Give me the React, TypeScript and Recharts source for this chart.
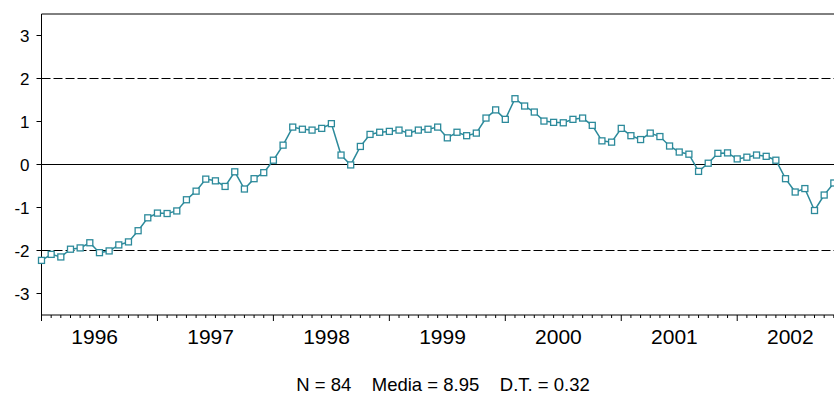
import React from 'react';
import { LineChart, Line, XAxis, YAxis, ReferenceLine } from 'recharts';

// monthly series, Jan 1996 .. Dec 2002 (84 obs)
const years = ['1996', '1997', '1998', '1999', '2000', '2001', '2002'];

const values = [
  -2.23, -2.09, -2.15, -1.97, -1.94, -1.82, -2.05, -2.01, -1.87, -1.8, -1.54, -1.24,
  -1.13, -1.14, -1.08, -0.82, -0.62, -0.34, -0.38, -0.51, -0.17, -0.57, -0.33, -0.19,
  0.1, 0.45, 0.87, 0.82, 0.8, 0.84, 0.95, 0.22, -0.01, 0.42, 0.7, 0.75,
  0.77, 0.8, 0.73, 0.8, 0.82, 0.87, 0.62, 0.75, 0.67, 0.73, 1.08, 1.27,
  1.05, 1.53, 1.36, 1.22, 1.01, 0.98, 0.97, 1.05, 1.08, 0.91, 0.55, 0.52,
  0.84, 0.67, 0.58, 0.73, 0.65, 0.43, 0.29, 0.24, -0.16, 0.03, 0.26, 0.27,
  0.13, 0.17, 0.22, 0.19, 0.1, -0.33, -0.64, -0.56, -1.07, -0.71, -0.43, -0.3,
];

const yTicks = [-3, -2, -1, 0, 1, 2, 3];
const bandLines = [-2, 2];
const footnote = 'N = 84    Media = 8.95    D.T. = 0.32';

const data = values.map((v, i) => ({
  t: i,
  month: `${years[Math.floor(i / 12)]}M${String((i % 12) + 1).padStart(2, '0')}`,
  value: v,
}));

// month ticks on integers, year labels centred in each year
const monthTicks = data.map((d) => d.t);
const yearCenters = years.map((_, k) => k * 12 + 5.5);
const xTicks = [...monthTicks, ...yearCenters];

const FONT = 'Arial, "Liberation Sans", sans-serif';
const SERIES = '#2c8a9b';

function XTick({ x, y, payload }: any) {
  const v = payload.value;
  if (!Number.isInteger(v)) {
    return (
      <text x={x} y={y + 29} textAnchor="middle" fontSize={21} fill="#000" fontFamily={FONT}>
        {years[Math.floor(v / 12)]}
      </text>
    );
  }
  const len = v % 12 === 0 ? 6 : 3;
  return <line x1={x} x2={x} y1={y} y2={y + len} stroke="#000" strokeWidth={1} />;
}

function SquareDot({ cx, cy, index }: any) {
  return (
    <rect key={index} x={cx - 3} y={cy - 3} width={6} height={6} fill="#fff" stroke={SERIES} strokeWidth={1.3} />
  );
}

export default function App() {
  return (
    <div
      style={{
        position: 'fixed',
        left: 0,
        top: 0,
        width: 834,
        height: 395,
        overflow: 'hidden',
        background: '#fff',
      }}
    >
      <LineChart width={850} height={395} data={data} margin={{ top: 14, right: 6.5, bottom: 30, left: 0.5 }}>
        <XAxis
          dataKey="t"
          type="number"
          domain={[0, 83]}
          ticks={xTicks}
          interval={0}
          tick={<XTick />}
          tickLine={false}
          tickSize={0}
          tickMargin={0}
          height={50}
          stroke="#000"
          axisLine={{ stroke: '#000', strokeWidth: 1 }}
        />
        <YAxis
          type="number"
          domain={[-3.5, 3.5]}
          ticks={yTicks}
          interval={0}
          width={41}
          tickSize={5}
          tickMargin={7}
          stroke="#000"
          tick={{ fill: '#000', fontSize: 17, fontFamily: FONT }}
          tickLine={{ stroke: '#000' }}
          axisLine={{ stroke: '#000', strokeWidth: 1 }}
        />
        <ReferenceLine y={3.5} stroke="#000" strokeWidth={1} />
        <ReferenceLine x={83} stroke="#000" strokeWidth={1} />
        <ReferenceLine y={0} stroke="#000" strokeWidth={1.2} />
        {bandLines.map((b) => (
          <ReferenceLine key={b} y={b} stroke="#000" strokeWidth={1.2} strokeDasharray="9 3" />
        ))}
        <Line
          dataKey="value"
          stroke={SERIES}
          strokeWidth={1.5}
          dot={<SquareDot />}
          activeDot={false}
          isAnimationActive={false}
        />
      </LineChart>
      <div
        style={{
          position: 'absolute',
          left: 243,
          top: 375.8,
          width: 400,
          textAlign: 'center',
          fontFamily: FONT,
          fontSize: 18.5,
          lineHeight: '18.5px',
          whiteSpace: 'pre',
          color: '#000',
        }}
      >
        {footnote}
      </div>
    </div>
  );
}
